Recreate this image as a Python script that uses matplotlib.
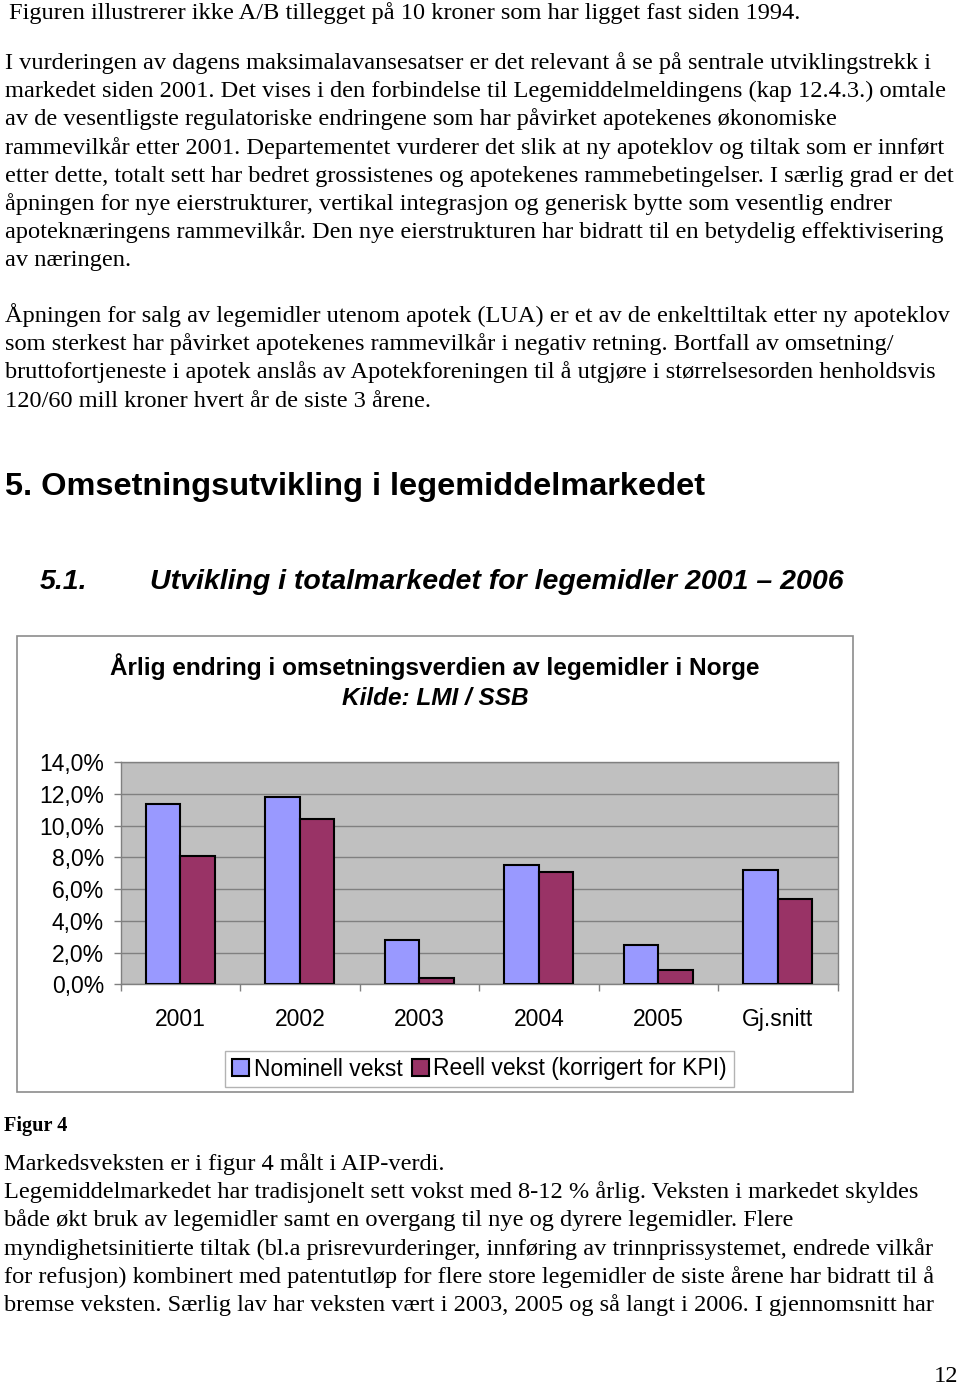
import matplotlib
matplotlib.use("Agg")
import matplotlib.pyplot as plt
from matplotlib.patches import Rectangle
from matplotlib.ticker import FuncFormatter, MultipleLocator
import numpy as np

# chart data (percent change per year)
categories = ['2001', '2002', '2003', '2004', '2005', 'Gj.snitt']
nominell = [11.4, 11.8, 2.8, 7.5, 2.5, 7.2]
reell = [8.1, 10.4, 0.4, 7.1, 0.9, 5.4]
series_names = ['Nominell vekst', 'Reell vekst (korrigert for KPI)']

chart_title = 'Årlig endring i omsetningsverdien av legemidler i Norge'
chart_source = 'Kilde: LMI / SSB'

# page text
intro_line = 'Figuren illustrerer ikke A/B tillegget på 10 kroner som har ligget fast siden 1994.'
para1 = [
    'I vurderingen av dagens maksimalavansesatser er det relevant å se på sentrale utviklingstrekk i',
    'markedet siden 2001. Det vises i den forbindelse til Legemiddelmeldingens (kap 12.4.3.) omtale',
    'av de vesentligste regulatoriske endringene som har påvirket apotekenes økonomiske',
    'rammevilkår etter 2001. Departementet vurderer det slik at ny apoteklov og tiltak som er innført',
    'etter dette, totalt sett har bedret grossistenes og apotekenes rammebetingelser. I særlig grad er det',
    'åpningen for nye eierstrukturer, vertikal integrasjon og generisk bytte som vesentlig endrer',
    'apoteknæringens rammevilkår. Den nye eierstrukturen har bidratt til en betydelig effektivisering',
    'av næringen.',
]
para2 = [
    'Åpningen for salg av legemidler utenom apotek (LUA) er et av de enkelttiltak etter ny apoteklov',
    'som sterkest har påvirket apotekenes rammevilkår i negativ retning. Bortfall av omsetning/',
    'bruttofortjeneste i apotek anslås av Apotekforeningen til å utgjøre i størrelsesorden henholdsvis',
    '120/60 mill kroner hvert år de siste 3 årene.',
]
para3 = [
    'Markedsveksten er i figur 4 målt i AIP-verdi.',
    'Legemiddelmarkedet har tradisjonelt sett vokst med 8-12 % årlig. Veksten i markedet skyldes',
    'både økt bruk av legemidler samt en overgang til nye og dyrere legemidler. Flere',
    'myndighetsinitierte tiltak (bl.a prisrevurderinger, innføring av trinnprissystemet, endrede vilkår',
    'for refusjon) kombinert med patentutløp for flere store legemidler de siste årene har bidratt til å',
    'bremse veksten. Særlig lav har veksten vært i 2003, 2005 og så langt i 2006. I gjennomsnitt har',
]

W, H = 960, 1385
fig = plt.figure(figsize=(W / 100, H / 100), dpi=100)
fig.patch.set_facecolor('white')

serif = 'Liberation Serif'
sans = 'Liberation Sans'
body_size = 17.55
line_h = 28.2
chart_size = 16.5


def put(x, y, s, **kw):
    # x, y in pixels from top-left, y is the baseline
    kw.setdefault('va', 'baseline')
    return fig.text(x / W, 1 - y / H, s, **kw)


# text above the chart
put(9, 19, intro_line, family=serif, fontsize=body_size)
for i, line in enumerate(para1):
    put(5, 69 + i * line_h, line, family=serif, fontsize=body_size)
for i, line in enumerate(para2):
    put(5, 322 + i * line_h, line, family=serif, fontsize=body_size)

put(5, 495, '5. Omsetningsutvikling i legemiddelmarkedet', family=sans,
    fontsize=23.4, weight='bold')
put(40, 589, '5.1.', family=sans, fontsize=20.5, weight='bold', style='italic')
put(150, 589, 'Utvikling i totalmarkedet for legemidler 2001 – 2006', family=sans,
    fontsize=20.5, weight='bold', style='italic')

# chart frame
fig.patches.append(Rectangle((17 / W, 1 - 1092 / H), (853 - 17) / W, (1092 - 636) / H,
                             transform=fig.transFigure, fill=False,
                             edgecolor='#8c8c8c', lw=1.2))
put(435, 675, chart_title, family=sans, fontsize=17.6, weight='bold', ha='center')
put(435, 705, chart_source, family=sans, fontsize=17.6, weight='bold',
    style='italic', ha='center')

# plot area
left, right, top, bottom = 120.7, 837.7, 762.3, 984.3
ax = fig.add_axes([left / W, 1 - bottom / H, (right - left) / W, (bottom - top) / H])
ax.set_facecolor('#c0c0c0')

x = np.arange(len(categories))
bw = 0.289
b1 = ax.bar(x - bw / 2, nominell, bw, color='#9999ff', edgecolor='black', lw=1.5,
            label=series_names[0], zorder=3)
b2 = ax.bar(x + bw / 2, reell, bw, color='#993366', edgecolor='black', lw=1.5,
            label=series_names[1], zorder=3)

ax.set_xlim(-0.5, len(categories) - 0.5)
ax.set_ylim(0, 14)
ax.yaxis.set_major_locator(MultipleLocator(2))
ax.yaxis.set_major_formatter(FuncFormatter(lambda v, p: f'{v:.1f}%'.replace('.', ',')))
ax.grid(axis='y', color='#808080', lw=1, zorder=0)
ax.set_axisbelow(True)

ax.set_xticks(x)
ax.set_xticklabels(categories)
ax.set_xticks(np.arange(-0.5, len(categories)), minor=True)
ax.tick_params(axis='x', which='major', length=0, pad=17, labelsize=chart_size)
ax.tick_params(axis='x', which='minor', length=5, color='#808080', width=1)
ax.tick_params(axis='y', length=5, color='#808080', width=1, pad=7, labelsize=chart_size)
for lab in ax.get_xticklabels() + ax.get_yticklabels():
    lab.set_family(sans)
for sp in ax.spines.values():
    sp.set_color('#808080')
    sp.set_linewidth(1)

leg = fig.legend(handles=[b1, b2], loc='center', bbox_to_anchor=(479.5 / W, 1 - 1069 / H),
                 ncol=2, prop={'family': sans, 'size': chart_size}, frameon=True,
                 fancybox=False, edgecolor='#a0a0a0', handlelength=0.75, handleheight=0.75,
                 handletextpad=0.2, columnspacing=0.4, borderpad=0.3)
leg.get_frame().set_linewidth(1)

# text below the chart
put(4, 1131, 'Figur 4', family=serif, fontsize=14.6, weight='bold')
for i, line in enumerate(para3):
    put(4, 1170 + i * line_h, line, family=serif, fontsize=body_size)
put(958, 1382, '12', family=serif, fontsize=body_size, ha='right')

fig.savefig('out.png', dpi=100)
